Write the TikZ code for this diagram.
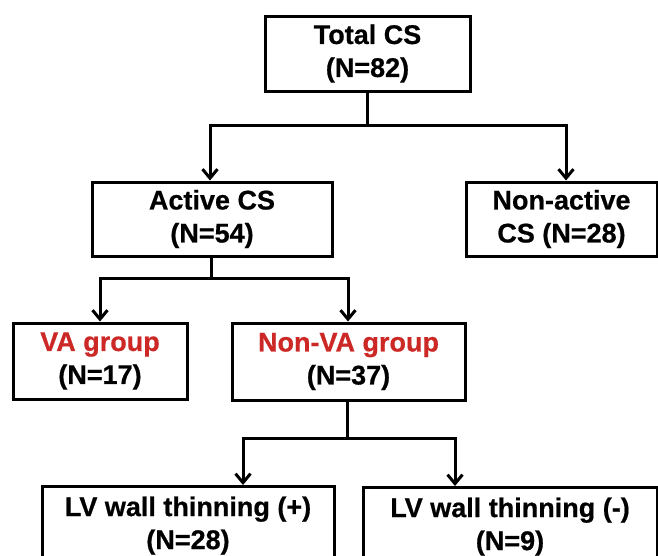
\documentclass[tikz,border=0pt]{standalone}
\usepackage{fontspec}
\setmainfont[BoldFeatures={FakeBold=0.6}]{Liberation Sans}
\usetikzlibrary{arrows.meta}
\definecolor{vared}{RGB}{204,40,38}
\begin{document}
\begin{tikzpicture}[x=1pt,y=-1pt,
  boxstyle/.style={draw=black, line width=3pt, align=center, inner sep=0pt,
    font=\fontsize{27}{33}\selectfont\bfseries},
  conn/.style={line width=3pt, line join=miter},
  arr/.style={conn, -{Straight Barb[length=9pt,width=15pt]}},
  arrb/.style={conn, {Straight Barb[length=9pt,width=15pt]}-{Straight Barb[length=9pt,width=15pt]}}
]
\clip (0,0) rectangle (658,555);
\fill[white] (0,0) rectangle (658,555);

\node[boxstyle, minimum width=205pt, minimum height=75pt] (total) at (367.5,53.5) {Total CS\\(N=82)};
\node[boxstyle, minimum width=240pt, minimum height=74pt] (active) at (212,219) {Active CS\\(N=54)};
\node[boxstyle, minimum width=191pt, minimum height=74pt] (nonactive) at (561.5,219) {Non-active\\CS (N=28)};
\node[boxstyle, minimum width=174pt, minimum height=76pt] (va) at (100,361) {\textcolor{vared}{VA group}\\(N=17)};
\node[boxstyle, minimum width=233pt, minimum height=77pt] (nonva) at (348.5,361.5) {\textcolor{vared}{Non-VA group}\\(N=37)};
\node[boxstyle, anchor=north, minimum width=292pt, inner ysep=10pt] (lvp) at (188,485) {LV wall thinning (+)\\(N=28)};
\node[boxstyle, anchor=north, minimum width=294pt, inner ysep=10pt] (lvm) at (510,486) {LV wall thinning (-)\\(N=9)};

% level 1
\coordinate (ta) at (210,125);
\coordinate (tn) at (566,125);
\draw[conn] (total.south) -- (total.south |- ta);
\draw[arrb] (ta |- active.north) -- (ta) -- (tn) -- (tn |- nonactive.north);

% level 2
\coordinate (aa) at (100,278);
\coordinate (an) at (348,278);
\draw[conn] (active.south -| 211,0) -- (211,278);
\draw[arrb] (aa |- va.north) -- (aa) -- (an) -- (an |- nonva.north);

% level 3
\coordinate (la) at (243,438);
\coordinate (ln) at (455,438);
\draw[conn] (nonva.south -| 347,0) -- (347,438);
\draw[arrb] (la |- lvp.north) -- (la) -- (ln) -- (ln |- lvm.north);
\end{tikzpicture}
\end{document}
